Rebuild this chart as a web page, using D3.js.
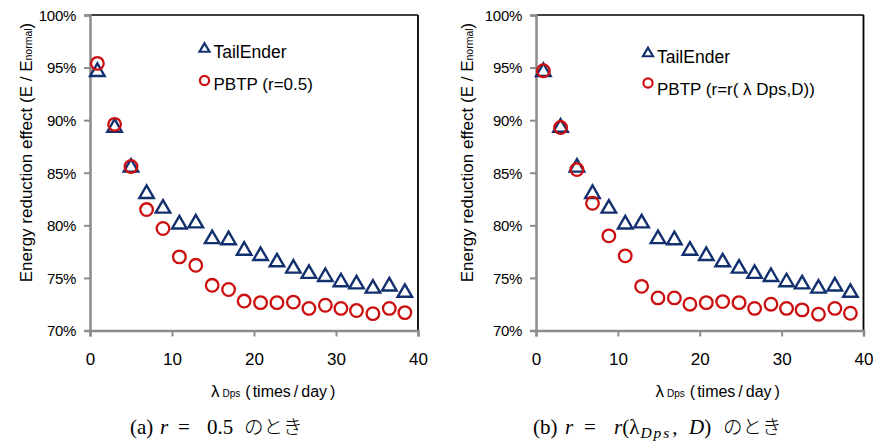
<!DOCTYPE html>
<html>
<head>
<meta charset="utf-8">
<script src="https://cdn.jsdelivr.net/npm/d3@7"></script>
<style>
  body { margin: 0; background: #fff; }
  svg { display: block; }
  text { font-family: "Liberation Sans", Arial, "Noto Sans CJK JP", sans-serif; fill: #000; }
  .cap { font-family: "Liberation Serif", "DejaVu Serif", "Noto Sans CJK JP", serif; }
</style>
</head>
<body>
<svg id="chart" width="875" height="441"></svg>
<script>
// ---- data ----
const lambdaDps = [0.9, 3.0, 5.0, 6.9, 8.9, 10.9, 12.9, 14.9, 16.9, 18.8, 20.8, 22.8, 24.8, 26.7, 28.7, 30.6, 32.5, 34.5, 36.5, 38.4];
const tailEnder = [94.8, 89.5, 85.7, 83.2, 81.8, 80.3, 80.4, 78.9, 78.8, 77.8, 77.3, 76.7, 76.1, 75.6, 75.3, 74.8, 74.6, 74.2, 74.4, 73.8];
const pbtpFixed = [95.4, 89.6, 85.6, 81.5, 79.7, 77.0, 76.2, 74.3, 73.9, 72.8, 72.65, 72.65, 72.7, 72.1, 72.4, 72.1, 71.9, 71.6, 72.1, 71.7];
const pbtpAdaptive = [94.7, 89.3, 85.3, 82.1, 79.0, 77.1, 74.2, 73.1, 73.1, 72.5, 72.65, 72.75, 72.65, 72.1, 72.5, 72.1, 71.96, 71.55, 72.1, 71.64];
const xTicks = [0, 10, 20, 30, 40];
const yTicks = [70, 75, 80, 85, 90, 95, 100];
const legendTail = "TailEnder";
const legendFixed = "PBTP (r=0.5)";
const legendAdaptive = "PBTP (r=r( λ Dps,D))";

const svg = d3.select("#chart");
const NAVY = "#13306e", RED = "#cc1010", GRAY = "#8c8c8c";

function triPath(w, h) {
  return `M0,${-h/2}L${w/2},${h/2}L${-w/2},${h/2}Z`;
}

function panel(cfg) {
  const g = svg.append("g");
  const x = d3.scaleLinear().domain([0, 40]).range([cfg.x0, cfg.x1]);
  const y = d3.scaleLinear().domain([70, 100]).range([330.5, 15]);

  // frame top/right (black)
  g.append("line").attr("x1", x(0)).attr("x2", x(40)).attr("y1", y(100)).attr("y2", y(100))
    .attr("stroke", "#000").attr("stroke-width", 1.5);
  g.append("line").attr("x1", x(40)).attr("x2", x(40)).attr("y1", y(100)).attr("y2", y(70))
    .attr("stroke", "#000").attr("stroke-width", 1.8);

  // y axis
  const ya = g.append("g").attr("transform", `translate(${x(0)},0)`)
    .call(d3.axisLeft(y).tickValues(yTicks).tickSize(6).tickPadding(8).tickFormat(d => d + "%"));
  ya.select(".domain").attr("stroke", GRAY).attr("stroke-width", 2.5);
  ya.selectAll(".tick line").attr("stroke", GRAY).attr("stroke-width", 2);
  ya.selectAll(".tick text").attr("font-size", 15).attr("font-family", "Liberation Sans, Arial, sans-serif")
    .attr("fill", "#000").attr("dy", "0.36em").attr("letter-spacing", "-0.3");

  // x axis
  const xa = g.append("g").attr("transform", `translate(0,${y(70)})`)
    .call(d3.axisBottom(x).tickValues(xTicks).tickSize(6).tickPadding(16).tickFormat(d3.format("d")));
  xa.select(".domain").attr("stroke", GRAY).attr("stroke-width", 2.5);
  xa.selectAll(".tick line").attr("stroke", GRAY).attr("stroke-width", 2);
  xa.selectAll(".tick text").attr("font-size", 17).attr("font-family", "Liberation Sans, Arial, sans-serif")
    .attr("fill", "#000");

  // markers
  g.append("g").selectAll("path").data(lambdaDps.map((d, i) => [d, tailEnder[i]])).join("path")
    .attr("d", triPath(14.5, 12.5))
    .attr("transform", d => `translate(${x(d[0])},${y(d[1])})`)
    .attr("fill", "none").attr("stroke", NAVY).attr("stroke-width", 2.4).attr("stroke-linejoin", "miter");
  g.append("g").selectAll("circle").data(lambdaDps.map((d, i) => [d, cfg.pbtp[i]])).join("circle")
    .attr("cx", d => x(d[0])).attr("cy", d => y(d[1])).attr("r", 6.3)
    .attr("fill", "none").attr("stroke", RED).attr("stroke-width", 2.3);

  // legend
  g.append("path").attr("d", triPath(10, 8.5))
    .attr("transform", `translate(${cfg.lx},${cfg.ly1})`)
    .attr("fill", "none").attr("stroke", NAVY).attr("stroke-width", 2.2);
  g.append("text").attr("x", cfg.lx + 9).attr("y", cfg.ly1 + cfg.tb1).attr("font-size", 17.5).text(legendTail);
  g.append("circle").attr("cx", cfg.lx).attr("cy", cfg.ly2).attr("r", 4.6)
    .attr("fill", "none").attr("stroke", RED).attr("stroke-width", 2.2);
  g.append("text").attr("x", cfg.lx + 9).attr("y", cfg.ly2 + cfg.tb2).attr("font-size", 17).text(cfg.legend);

  // y title
  const yt = g.append("text").attr("transform", `translate(${cfg.yTitleX},152.5) rotate(-90)`)
    .attr("text-anchor", "middle").attr("font-size", 17);
  yt.append("tspan").text("Energy reduction effect (E / E");
  yt.append("tspan").attr("font-size", 10.5).text("normal");
  yt.append("tspan").text(")");

  // x title
  const xt = g.append("text").attr("x", cfg.xTitleX).attr("y", 397).attr("font-size", 16);
  xt.append("tspan").attr("font-size", 17).text("λ");
  xt.append("tspan").attr("font-size", 10).attr("dx", 3).text("Dps");
  xt.append("tspan").attr("dx", 5).text("(");
  xt.append("tspan").attr("dx", 2).text("times");
  xt.append("tspan").attr("dx", 3).text("/");
  xt.append("tspan").attr("dx", 3).text("day");
  xt.append("tspan").attr("dx", 3).text(")");

  // caption
  const ct = g.append("text").attr("class", "cap").attr("y", 434)
    .attr("font-size", 21).attr("fill", "#333");
  cfg.caption(ct, cfg.x0);
}

function cjk(t) {
  return t.attr("font-family", "Noto Sans CJK JP, sans-serif").attr("font-weight", 300).attr("font-size", 19.5);
}

panel({
  x0: 90, x1: 418, pbtp: pbtpFixed, legend: legendFixed,
  lx: 204.5, ly1: 47.5, ly2: 80.5, tb1: 10, tb2: 9,
  yTitleX: 31.5, xTitleX: 211,
  caption: (t, o) => {
    t.append("tspan").attr("x", o + 40).text("(a)");
    t.append("tspan").attr("x", o + 70).attr("font-style", "italic").text("r");
    t.append("tspan").attr("x", o + 88).text("=");
    t.append("tspan").attr("x", o + 117).text("0.5");
    cjk(t.append("tspan").attr("x", o + 154)).text("のとき");
  }
});

panel({
  x0: 536, x1: 863.5, pbtp: pbtpAdaptive, legend: legendAdaptive,
  lx: 648, ly1: 52, ly2: 83, tb1: 11, tb2: 12,
  yTitleX: 473.3, xTitleX: 655.5,
  caption: (t, o) => {
    t.append("tspan").attr("x", o - 3).text("(b)");
    t.append("tspan").attr("x", o + 29).attr("font-style", "italic").text("r");
    t.append("tspan").attr("x", o + 48).text("=");
    t.append("tspan").attr("x", o + 78).attr("font-style", "italic").text("r");
    t.append("tspan").text("(λ");
    t.append("tspan").attr("font-style", "italic").attr("font-size", 15.5).attr("dy", 4).attr("dx", 1)
      .attr("letter-spacing", 2).text("Dps");
    t.append("tspan").attr("dy", -4).attr("dx", 1).text(",");
    t.append("tspan").attr("x", o + 153).attr("font-style", "italic").text("D");
    t.append("tspan").text(")");
    cjk(t.append("tspan").attr("x", o + 187)).text("のとき");
  }
});
</script>
</body>
</html>
